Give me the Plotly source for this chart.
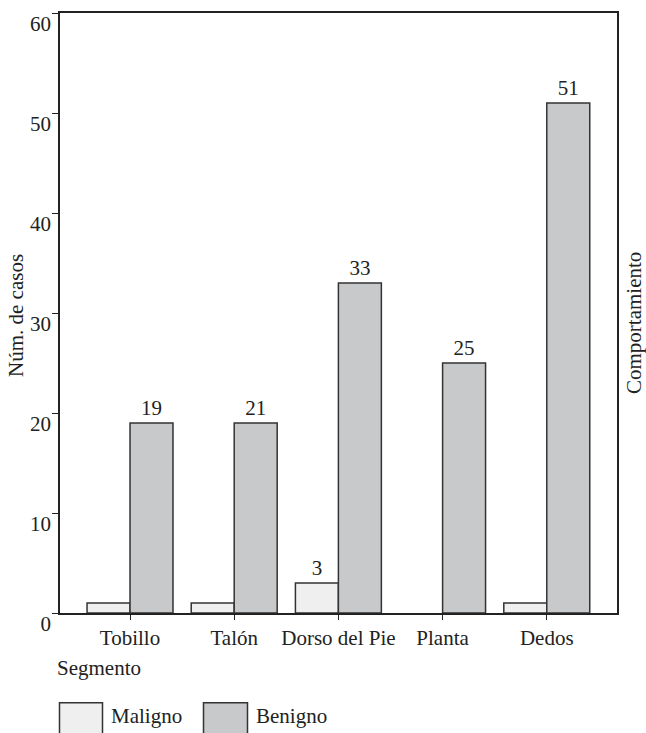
import plotly.graph_objects as go

# ---- data ----
segmentos = ["Tobillo", "Talón", "Dorso del Pie", "Planta", "Dedos"]
maligno = [1, 1, 3, None, 1]
benigno = [19, 19, 33, 25, 51]
etiquetas_maligno = ["", "", "3", "", ""]
etiquetas_benigno = ["19", "21", "33", "25", "51"]
y_ticks = [0, 10, 20, 30, 40, 50, 60]

FONT = "Liberation Serif"
INK = "#222222"
C_MAL = "#efefef"
C_BEN = "#c8c9cb"
EDGE = "#333333"

W, H = 646, 733
L, R, T, B = 60, 29, 11, 120
pw, ph = W - L - R, H - T - B

def px(x):
    return (x - L) / pw

def py(y):
    return (H - B - y) / ph

fig = go.Figure()
fig.add_trace(go.Bar(
    x=segmentos, y=maligno, name="Maligno",
    marker=dict(color=C_MAL, line=dict(color=EDGE, width=1.5)),
    text=etiquetas_maligno, textposition="outside", cliponaxis=False,
    textfont=dict(family=FONT, size=21, color=INK),
))
fig.add_trace(go.Bar(
    x=segmentos, y=benigno, name="Benigno",
    marker=dict(color=C_BEN, line=dict(color=EDGE, width=1.5)),
    text=etiquetas_benigno, textposition="outside", cliponaxis=False,
    textfont=dict(family=FONT, size=21, color=INK),
))

annotations = [
    dict(text="Núm. de casos", x=px(16), y=py(315), xref="paper", yref="paper",
         textangle=-90, showarrow=False, xanchor="center", yanchor="middle",
         font=dict(family=FONT, size=21, color=INK)),
    dict(text="Comportamiento", x=px(634), y=py(322), xref="paper", yref="paper",
         textangle=-90, showarrow=False, xanchor="center", yanchor="middle",
         font=dict(family=FONT, size=21, color=INK)),
    dict(text="Segmento", x=px(55), y=py(668), xref="paper", yref="paper",
         showarrow=False, xanchor="left", yanchor="middle",
         font=dict(family=FONT, size=21, color=INK)),
    dict(text="Maligno", x=px(109), y=py(716), xref="paper", yref="paper",
         showarrow=False, xanchor="left", yanchor="middle",
         font=dict(family=FONT, size=21, color=INK)),
    dict(text="Benigno", x=px(254), y=py(716), xref="paper", yref="paper",
         showarrow=False, xanchor="left", yanchor="middle",
         font=dict(family=FONT, size=21, color=INK)),
]

shapes = [
    dict(type="rect", xref="paper", yref="paper", x0=px(59.5), x1=px(102.5),
         y0=py(703), y1=py(745), fillcolor=C_MAL, line=dict(color=EDGE, width=1.5)),
    dict(type="rect", xref="paper", yref="paper", x0=px(203.5), x1=px(247.5),
         y0=py(703), y1=py(745), fillcolor=C_BEN, line=dict(color=EDGE, width=1.5)),
]

fig.update_layout(
    width=W, height=H,
    margin=dict(l=L, r=R, t=T, b=B, pad=0),
    paper_bgcolor="white", plot_bgcolor="white",
    barmode="group", bargap=0.175, bargroupgap=0,
    showlegend=False,
    font=dict(family=FONT, size=21, color=INK),
    annotations=annotations, shapes=shapes,
    xaxis=dict(
        range=[-0.672, 4.674], showgrid=False, zeroline=False,
        showline=True, linecolor=INK, linewidth=1.5, mirror=True,
        ticks="outside", ticklen=5, tickcolor=INK, tickwidth=1.2,
        tickfont=dict(family=FONT, size=21, color=INK),
    ),
    yaxis=dict(
        range=[0, 60], tickvals=y_ticks, showgrid=False, zeroline=False,
        showline=True, linecolor=INK, linewidth=1.5, mirror=True,
        ticks="outside", ticklen=6, tickcolor=INK, tickwidth=1.2,
        ticklabelshift=11, ticklabelstandoff=-3,
        tickfont=dict(family=FONT, size=21, color=INK),
    ),
)

fig.write_html(
    "out.html",
    config={"displayModeBar": False},
    post_script="document.body.style.margin='0';document.body.style.overflow='hidden';",
)
